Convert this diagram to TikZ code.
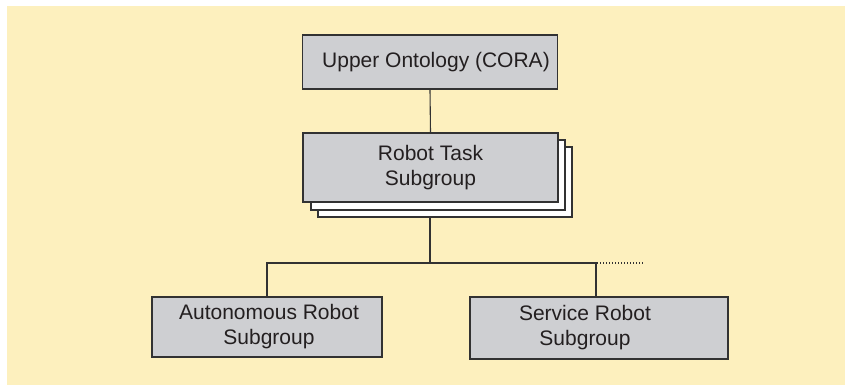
\documentclass[tikz,border=0pt]{standalone}
\usepackage{fontspec}
\setmainfont{Liberation Sans}
\definecolor{bgyellow}{RGB}{253,240,190}
\definecolor{boxgray}{RGB}{206,207,210}
\definecolor{edgegray}{RGB}{50,50,50}
\definecolor{txt}{RGB}{35,31,32}
\begin{document}
\begin{tikzpicture}[x=1pt,y=-1pt,
  box/.style={draw=edgegray,line width=1.2pt,fill=boxgray,text=txt,
    font=\fontsize{21}{25}\selectfont,align=center,inner sep=0pt},
  shadowbox/.style={draw=edgegray,line width=1.2pt,fill=white},
  conn/.style={draw=edgegray,line width=1.1pt}]
\useasboundingbox (0,0) rectangle (847,385);
\fill[bgyellow] (7,6) rectangle (845,385);
% upper
\node[box,minimum width=255pt,minimum height=54pt] (upper) at (430,62) {\hspace{12pt}Upper Ontology (CORA)};
% stacked
\draw[shadowbox] (318,147) rectangle (572,217);
\draw[shadowbox] (311,140) rectangle (565,210);
\node[box,minimum width=255pt,minimum height=69pt] (task) at (430.5,167.5) {Robot Task\\Subgroup};
\coordinate (taskbot) at (430,217);
\node[box,minimum width=230pt,minimum height=60pt] (auto) at (267,327) {\hspace{4pt}Autonomous Robot\\\hspace{4pt}Subgroup};
\node[box,minimum width=258pt,minimum height=62pt] (serv) at (599,328) {Service Robot\kern28pt\\Subgroup\kern28pt};
\coordinate (junc) at (430,263);
\coordinate (dotend) at (643,263);
\draw[conn] (upper.south) -- (task.north);
\draw[conn] (taskbot) -- (junc);
\draw[conn] (auto.north) |- (junc);
\draw[conn] (junc) -| (596,297) coordinate (servtop);
\draw[edgegray,line width=1.1pt,dash pattern=on 1.2pt off 1.8pt] (597,263) -- (dotend);
\end{tikzpicture}
\end{document}
